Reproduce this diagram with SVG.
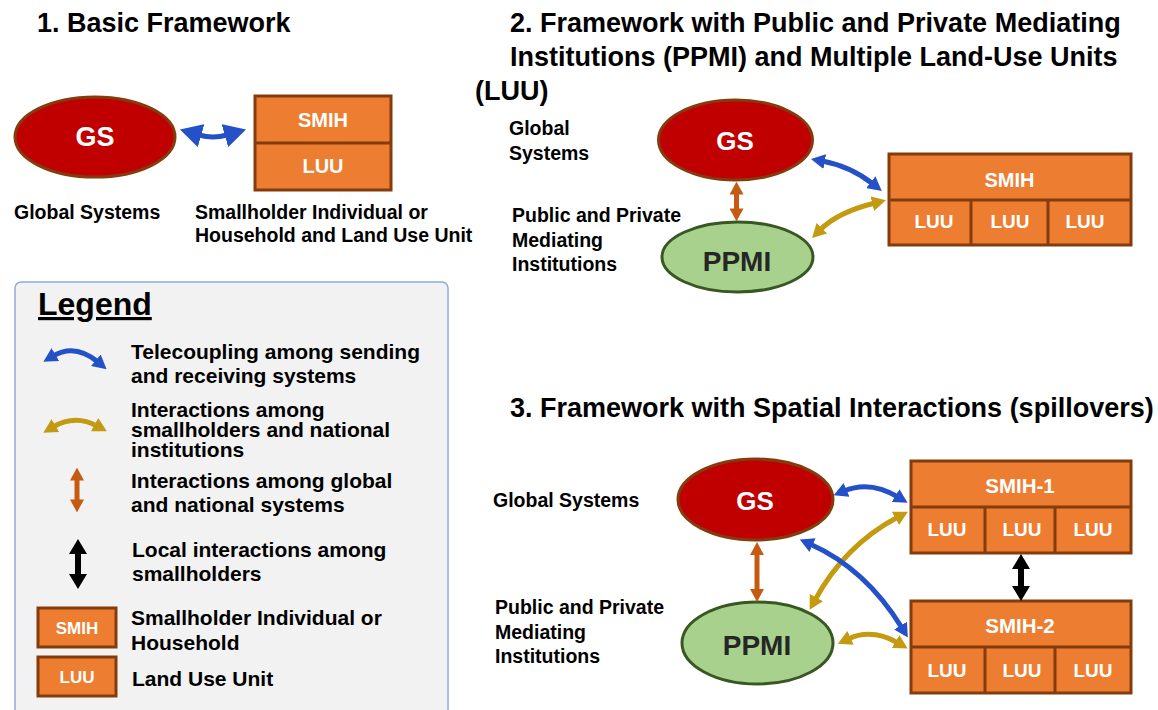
<svg xmlns="http://www.w3.org/2000/svg" width="1158" height="710" viewBox="0 0 1158 710">
  <style>
    text { font-family: "Liberation Sans", Arial, sans-serif; font-weight: bold; }
    .title { font-size: 27px; fill: #000; }
    .lbl { font-size: 19.5px; fill: #000; }
    .leg { font-size: 21px; fill: #000; }
    .wt { fill: #fff; text-anchor: middle; }
    .dk { fill: #262626; text-anchor: middle; }
    .gs { fill: #c00000; stroke: #843c0c; stroke-width: 3; }
    .ppmi { fill: #a9d18e; stroke: #385723; stroke-width: 3; }
    .box { fill: #ed7d31; stroke: #843c0c; stroke-width: 3; }
    .div { stroke: #843c0c; stroke-width: 3; fill: none; }
    .arr { fill: none; stroke-width: 5; }
    .blue { stroke: #2451c7; marker-start: url(#mBlue); marker-end: url(#mBlue); }
    .gold { stroke: #c39a10; marker-start: url(#mGold); marker-end: url(#mGold); }
    .orng { stroke: #c55a11; marker-start: url(#mOrng); marker-end: url(#mOrng); }
    .blk { stroke: #000; stroke-width: 6; marker-start: url(#mBlk); marker-end: url(#mBlk); }
  </style>
  <defs>
    <marker id="mBlue" viewBox="0 0 10 10" refX="2" refY="5" markerUnits="userSpaceOnUse" markerWidth="14" markerHeight="15" preserveAspectRatio="none" orient="auto-start-reverse">
      <path d="M0,0 L10,5 L0,10 z" fill="#2451c7"/>
    </marker>
    <marker id="mBlueBig" viewBox="0 0 10 10" refX="1" refY="5" markerUnits="userSpaceOnUse" markerWidth="22" markerHeight="24" preserveAspectRatio="none" orient="auto-start-reverse">
      <path d="M0,0 L10,5 L0,10 z" fill="#2451c7"/>
    </marker>
    <marker id="mGold" viewBox="0 0 10 10" refX="2" refY="5" markerUnits="userSpaceOnUse" markerWidth="14" markerHeight="15" preserveAspectRatio="none" orient="auto-start-reverse">
      <path d="M0,0 L10,5 L0,10 z" fill="#c39a10"/>
    </marker>
    <marker id="mOrng" viewBox="0 0 10 10" refX="2" refY="5" markerUnits="userSpaceOnUse" markerWidth="13" markerHeight="14" preserveAspectRatio="none" orient="auto-start-reverse">
      <path d="M0,0 L10,5 L0,10 z" fill="#c55a11"/>
    </marker>
    <marker id="mBlk" viewBox="0 0 10 10" refX="2" refY="5" markerUnits="userSpaceOnUse" markerWidth="15" markerHeight="18" preserveAspectRatio="none" orient="auto-start-reverse">
      <path d="M0,0 L10,5 L0,10 z" fill="#000"/>
    </marker>
  </defs>

  <rect width="1158" height="710" fill="#fff"/>

  <!-- Section titles -->
  <g id="titles">
    <text class="title" x="37" y="32">1. Basic Framework</text>
    <text class="title" x="510" y="32">2. Framework with Public and Private Mediating</text>
    <text class="title" x="510" y="66">Institutions (PPMI) and Multiple Land-Use Units</text>
    <text class="title" x="475" y="100">(LUU)</text>
    <text class="title" x="510" y="417">3. Framework with Spatial Interactions (spillovers)</text>
  </g>

  <!-- 1. Basic framework -->
  <g id="s1-gs">
    <ellipse class="gs" cx="95" cy="137" rx="80" ry="40"/>
    <text class="wt" x="95" y="146" font-size="27">GS</text>
    <text class="lbl" x="14" y="219">Global Systems</text>
  </g>
  <g id="s1-smih">
    <rect class="box" x="255" y="96" width="136" height="94"/>
    <line class="div" x1="255" y1="143" x2="391" y2="143"/>
    <text class="wt" x="323" y="127" font-size="20">SMIH</text>
    <text class="wt" x="323" y="173" font-size="20">LUU</text>
    <text class="lbl" x="195" y="219">Smallholder Individual or</text>
    <text class="lbl" x="195" y="242">Household and Land Use Unit</text>
  </g>

  <!-- Legend -->
  <g id="legend">
    <rect x="15" y="282" width="433" height="440" rx="6" fill="#f2f2f2" stroke="#8eaadb" stroke-width="1.5"/>
    <text x="38" y="315" font-size="32" text-decoration="underline">Legend</text>
    <path class="arr blue" d="M53,356 Q75,343 98,362"/>
    <text class="leg" x="131" y="359">Telecoupling among sending</text>
    <text class="leg" x="131" y="383">and receiving systems</text>
    <path class="arr gold" d="M53,427 Q75,414 97,426"/>
    <text class="leg" x="131" y="417">Interactions among</text>
    <text class="leg" x="131" y="437">smallholders and national</text>
    <text class="leg" x="131" y="457">institutions</text>
    <path class="arr orng" d="M77,478 L77,502"/>
    <text class="leg" x="131" y="488">Interactions among global</text>
    <text class="leg" x="131" y="512">and national systems</text>
    <path class="arr blk" d="M78,551 L78,577"/>
    <text class="leg" x="132" y="557">Local interactions among</text>
    <text class="leg" x="132" y="581">smallholders</text>
    <rect class="box" x="38" y="608" width="78" height="39"/>
    <text x="77" y="634" font-family="Open Sans, sans-serif" font-weight="600" font-size="17" fill="#fff" text-anchor="middle">SMIH</text>
    <text class="leg" x="131" y="625">Smallholder Individual or</text>
    <text class="leg" x="131" y="650">Household</text>
    <rect class="box" x="38" y="657" width="78" height="39"/>
    <text x="77" y="683" font-family="Open Sans, sans-serif" font-weight="600" font-size="17" fill="#fff" text-anchor="middle">LUU</text>
    <text class="leg" x="132" y="686">Land Use Unit</text>
  </g>

  <!-- 2. Framework with PPMI and multiple LUU -->
  <g id="s2-gs">
    <text class="lbl" x="509" y="135">Global</text>
    <text class="lbl" x="509" y="160">Systems</text>
    <ellipse class="gs" cx="735.5" cy="140" rx="77" ry="40"/>
    <text class="wt" x="735" y="150" font-size="26">GS</text>
  </g>
  <g id="s2-ppmi">
    <text class="lbl" x="512" y="222">Public and Private</text>
    <text class="lbl" x="512" y="247">Mediating</text>
    <text class="lbl" x="512" y="271">Institutions</text>
    <ellipse class="ppmi" cx="737.5" cy="257" rx="75.5" ry="35"/>
    <text class="dk" x="737" y="271" font-size="28">PPMI</text>
  </g>
  <g id="s2-smih">
    <rect class="box" x="889" y="154" width="242" height="91"/>
    <line class="div" x1="889" y1="200" x2="1131" y2="200"/>
    <line class="div" x1="971" y1="200" x2="971" y2="245"/>
    <line class="div" x1="1048" y1="200" x2="1048" y2="245"/>
    <text class="wt" x="1009.5" y="187" font-size="20">SMIH</text>
    <text class="wt" x="934" y="228" font-size="19">LUU</text>
    <text class="wt" x="1010" y="228" font-size="19">LUU</text>
    <text class="wt" x="1085" y="228" font-size="19">LUU</text>
  </g>

  <!-- 3. Framework with spatial interactions -->
  <g id="s3-gs">
    <text class="lbl" x="493" y="507">Global Systems</text>
    <ellipse class="gs" cx="755.5" cy="499.5" rx="77.5" ry="40.5"/>
    <text class="wt" x="755" y="510" font-size="26">GS</text>
  </g>
  <g id="s3-ppmi">
    <text class="lbl" x="495" y="614">Public and Private</text>
    <text class="lbl" x="495" y="639">Mediating</text>
    <text class="lbl" x="495" y="663">Institutions</text>
    <ellipse class="ppmi" cx="757.5" cy="643" rx="75.5" ry="41"/>
    <text class="dk" x="757" y="655" font-size="28">PPMI</text>
  </g>
  <g id="s3-smih1">
    <rect class="box" x="911" y="461" width="220" height="92"/>
    <line class="div" x1="911" y1="507" x2="1131" y2="507"/>
    <line class="div" x1="985" y1="507" x2="985" y2="553"/>
    <line class="div" x1="1055" y1="507" x2="1055" y2="553"/>
    <text class="wt" x="1020" y="493" font-size="20.5">SMIH-1</text>
    <text class="wt" x="947" y="536" font-size="19">LUU</text>
    <text class="wt" x="1022" y="536" font-size="19">LUU</text>
    <text class="wt" x="1093" y="536" font-size="19">LUU</text>
  </g>
  <g id="s3-smih2">
    <rect class="box" x="911" y="601" width="220" height="92"/>
    <line class="div" x1="911" y1="647" x2="1131" y2="647"/>
    <line class="div" x1="985" y1="647" x2="985" y2="693"/>
    <line class="div" x1="1055" y1="647" x2="1055" y2="693"/>
    <text class="wt" x="1020" y="633" font-size="20.5">SMIH-2</text>
    <text class="wt" x="947" y="677" font-size="19">LUU</text>
    <text class="wt" x="1022" y="677" font-size="19">LUU</text>
    <text class="wt" x="1093" y="677" font-size="19">LUU</text>
  </g>

  <!-- Connectors -->
  <g id="connectors">
    <path class="arr" d="M199,135 Q213,139 227,135" stroke="#2451c7" stroke-width="8" marker-start="url(#mBlueBig)" marker-end="url(#mBlueBig)"/>
    <path class="arr orng" d="M736.5,192 L736.5,211"/>
    <path class="arr blue" d="M822,161 Q850,166 873,184"/>
    <path class="arr gold" d="M820,230 Q838,212 875,203"/>
    <path class="arr orng" d="M757,552.5 L757,591.5"/>
    <path class="arr blue" d="M844,491 Q870,480 898,497"/>
    <path class="arr gold" d="M815,600 Q845,545 898,517"/>
    <path class="arr blue" d="M810,544 Q866,569 902,628"/>
    <path class="arr gold" d="M848,639 Q872,628 898,643"/>
    <path class="arr blk" d="M1021,566 L1021,589"/>
  </g>
</svg>
